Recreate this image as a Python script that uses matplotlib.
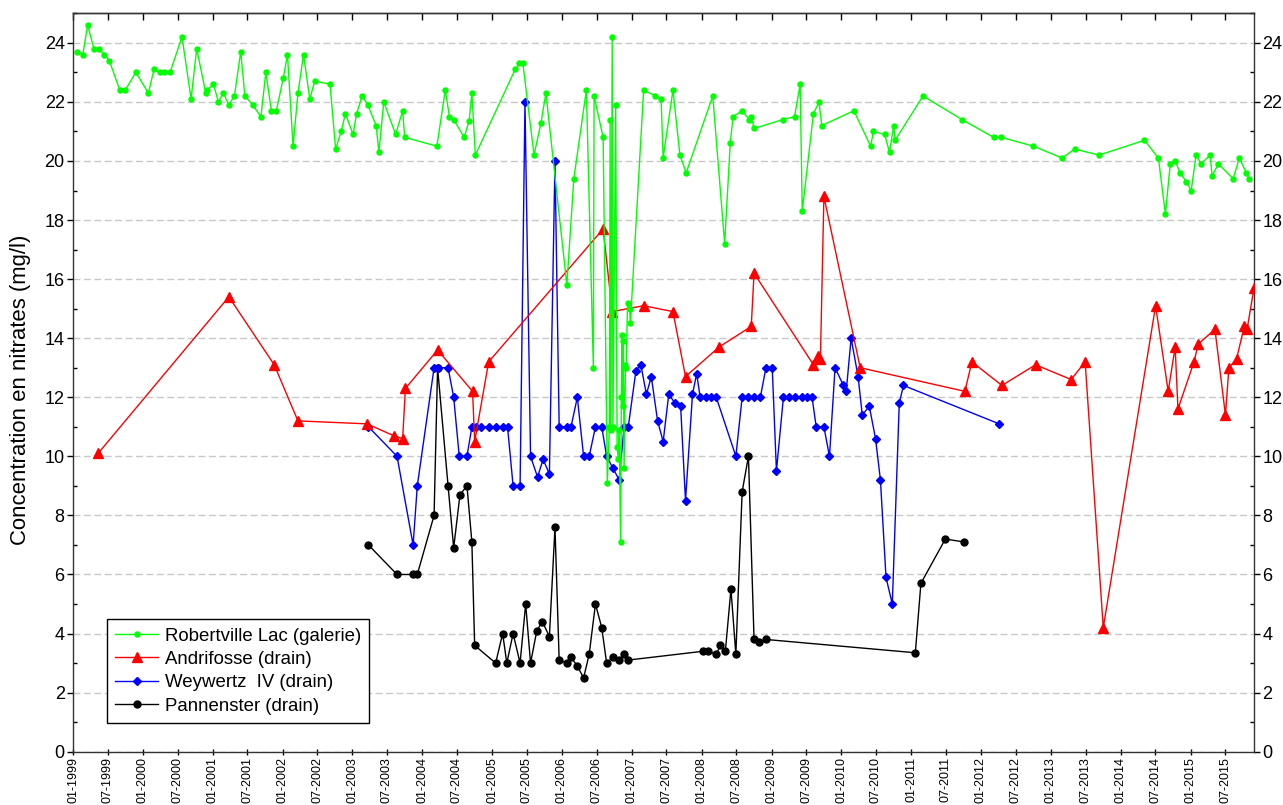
import numpy as np
import pandas as pd
import matplotlib
matplotlib.use('Agg')
import matplotlib.pyplot as plt
import matplotlib.dates as mdates
from matplotlib.ticker import MultipleLocator

plt.rcParams['font.family'] = ['Liberation Sans', 'DejaVu Sans']

# Sampling dates are kept as decimal years, concentrations in mg/l
robertville_years = [
    1999.06, 1999.14, 1999.21, 1999.30, 1999.37, 1999.45, 1999.52, 1999.67, 1999.75, 1999.90,
    2000.08, 2000.16, 2000.24, 2000.31, 2000.39, 2000.56, 2000.69, 2000.77, 2000.90, 2000.92,
    2001.01, 2001.08, 2001.15, 2001.23, 2001.31, 2001.40, 2001.46, 2001.57, 2001.69, 2001.76,
    2001.84, 2001.91, 2002.01, 2002.07, 2002.15, 2002.22, 2002.30, 2002.39, 2002.46, 2002.68,
    2002.76, 2002.84, 2002.90, 2003.01, 2003.06, 2003.14, 2003.22, 2003.34, 2003.38, 2003.45,
    2003.62, 2003.72, 2003.75, 2004.21, 2004.33, 2004.39, 2004.45, 2004.60, 2004.67, 2004.71,
    2004.76, 2005.33, 2005.39, 2005.44, 2005.60, 2005.70, 2005.77, 2006.07, 2006.17, 2006.35,
    2006.45, 2006.46, 2006.59, 2006.65, 2006.68, 2006.69, 2006.70, 2006.72, 2006.73, 2006.77,
    2006.79, 2006.81, 2006.82, 2006.84, 2006.85, 2006.86, 2006.87, 2006.88, 2006.89, 2006.91,
    2006.92, 2006.94, 2006.97, 2006.98, 2007.17, 2007.34, 2007.42, 2007.45, 2007.59, 2007.69,
    2007.78, 2008.16, 2008.33, 2008.41, 2008.45, 2008.58, 2008.68, 2008.71, 2008.75, 2009.16,
    2009.33, 2009.41, 2009.44, 2009.60, 2009.68, 2009.72, 2010.18, 2010.42, 2010.46, 2010.62,
    2010.69, 2010.75, 2010.77, 2011.17, 2011.73, 2012.18, 2012.29, 2012.75, 2013.16, 2013.34,
    2013.69, 2014.34, 2014.54, 2014.64, 2014.71, 2014.78, 2014.85, 2014.94, 2015.01, 2015.08,
    2015.15, 2015.28, 2015.31, 2015.40, 2015.61, 2015.70, 2015.80, 2015.84,
]
robertville_no3 = [
    23.7, 23.6, 24.6, 23.8, 23.8, 23.6, 23.4, 22.4, 22.4, 23.0,
    22.3, 23.1, 23.0, 23.0, 23.0, 24.2, 22.1, 23.8, 22.3, 22.4,
    22.6, 22.0, 22.3, 21.9, 22.2, 23.7, 22.2, 21.9, 21.5, 23.0,
    21.7, 21.7, 22.8, 23.6, 20.5, 22.3, 23.6, 22.1, 22.7, 22.6,
    20.4, 21.0, 21.6, 20.9, 21.6, 22.2, 21.9, 21.2, 20.3, 22.0,
    20.9, 21.7, 20.8, 20.5, 22.4, 21.5, 21.4, 20.8, 21.35, 22.3,
    20.2, 23.1, 23.3, 23.3, 20.2, 21.3, 22.3, 15.8, 19.4, 22.4,
    13.0, 22.2, 20.8, 9.1, 11.0, 21.4, 10.9, 24.2, 11.0, 21.9,
    10.3, 9.9, 10.9, 7.1, 12.0, 14.1, 11.7, 13.9, 9.6, 13.1,
    13.0, 15.2, 15.0, 14.5, 22.4, 22.2, 22.1, 20.1, 22.4, 20.2,
    19.6, 22.2, 17.2, 20.6, 21.5, 21.7, 21.4, 21.5, 21.1, 21.4,
    21.5, 22.6, 18.3, 21.6, 22.0, 21.2, 21.7, 20.5, 21.0, 20.9,
    20.3, 21.2, 20.7, 22.2, 21.4, 20.8, 20.8, 20.5, 20.1, 20.4,
    20.2, 20.7, 20.1, 18.2, 19.9, 20.0, 19.6, 19.3, 19.0, 20.2,
    19.9, 20.2, 19.5, 19.9, 19.4, 20.1, 19.6, 19.4,
]

andrifosse_years = [
    1999.36, 2001.23, 2001.88, 2002.22, 2003.21, 2003.59, 2003.72, 2003.76, 2004.22, 2004.72,
    2004.75, 2004.95, 2006.59, 2006.72, 2007.17, 2007.59, 2007.77, 2008.25, 2008.71, 2008.75,
    2009.60, 2009.67, 2009.70, 2009.75, 2010.27, 2011.77, 2011.87, 2012.30, 2012.78, 2013.29,
    2013.49, 2013.75, 2014.50, 2014.68, 2014.78, 2014.82, 2015.05, 2015.11, 2015.35, 2015.50,
    2015.55, 2015.66, 2015.77, 2015.81, 2015.91,
]
andrifosse_no3 = [
    10.1, 15.4, 13.1, 11.2, 11.1, 10.7, 10.6, 12.3, 13.6, 12.2,
    10.5, 13.2, 17.7, 14.9, 15.1, 14.9, 12.7, 13.7, 14.4, 16.2,
    13.1, 13.4, 13.3, 18.8, 13.0, 12.2, 13.2, 12.4, 13.1, 12.6,
    13.2, 4.2, 15.1, 12.2, 13.7, 11.6, 13.2, 13.8, 14.3, 11.4,
    13.0, 13.3, 14.4, 14.3, 15.7,
]

weywertz_years = [
    2003.23, 2003.64, 2003.87, 2003.93, 2004.17, 2004.22, 2004.37, 2004.45, 2004.53, 2004.64,
    2004.71, 2004.77, 2004.84, 2004.95, 2005.05, 2005.15, 2005.22, 2005.30, 2005.40, 2005.47,
    2005.55, 2005.65, 2005.73, 2005.82, 2005.90, 2005.96, 2006.07, 2006.13, 2006.22, 2006.31,
    2006.39, 2006.48, 2006.57, 2006.64, 2006.73, 2006.82, 2006.89, 2006.95, 2007.06, 2007.13,
    2007.21, 2007.28, 2007.37, 2007.45, 2007.53, 2007.62, 2007.70, 2007.77, 2007.87, 2007.93,
    2007.98, 2008.07, 2008.14, 2008.21, 2008.49, 2008.58, 2008.67, 2008.75, 2008.84, 2008.92,
    2009.01, 2009.07, 2009.17, 2009.25, 2009.34, 2009.43, 2009.51, 2009.58, 2009.64, 2009.75,
    2009.83, 2009.91, 2010.03, 2010.07, 2010.14, 2010.24, 2010.30, 2010.40, 2010.49, 2010.56,
    2010.64, 2010.73, 2010.83, 2010.89, 2012.26,
]
weywertz_no3 = [
    11.0, 10.0, 7.0, 9.0, 13.0, 13.0, 13.0, 12.0, 10.0, 10.0,
    11.0, 11.0, 11.0, 11.0, 11.0, 11.0, 11.0, 9.0, 9.0, 22.0,
    10.0, 9.3, 9.9, 9.4, 20.0, 11.0, 11.0, 11.0, 12.0, 10.0,
    10.0, 11.0, 11.0, 10.0, 9.6, 9.2, 11.0, 11.0, 12.9, 13.1,
    12.1, 12.7, 11.2, 10.5, 12.1, 11.8, 11.7, 8.5, 12.1, 12.8,
    12.0, 12.0, 12.0, 12.0, 10.0, 12.0, 12.0, 12.0, 12.0, 13.0,
    13.0, 9.5, 12.0, 12.0, 12.0, 12.0, 12.0, 12.0, 11.0, 11.0,
    10.0, 13.0, 12.4, 12.2, 14.0, 12.7, 11.4, 11.7, 10.6, 9.2,
    5.9, 5.0, 11.8, 12.4, 11.1,
]

pannenster_years = [
    2003.23, 2003.64, 2003.87, 2003.93, 2004.17, 2004.22, 2004.37, 2004.45, 2004.54, 2004.64,
    2004.71, 2004.75, 2005.05, 2005.15, 2005.21, 2005.30, 2005.40, 2005.48, 2005.55, 2005.64,
    2005.72, 2005.82, 2005.90, 2005.96, 2006.07, 2006.13, 2006.22, 2006.31, 2006.39, 2006.48,
    2006.57, 2006.64, 2006.73, 2006.82, 2006.89, 2006.94, 2008.02, 2008.09, 2008.21, 2008.27,
    2008.34, 2008.42, 2008.49, 2008.58, 2008.67, 2008.75, 2008.82, 2008.92, 2011.06, 2011.14,
    2011.49, 2011.76,
]
pannenster_no3 = [
    7.0, 6.0, 6.0, 6.0, 8.0, 13.0, 9.0, 6.9, 8.7, 9.0,
    7.1, 3.6, 3.0, 4.0, 3.0, 4.0, 3.0, 5.0, 3.0, 4.1,
    4.4, 3.9, 7.6, 3.1, 3.0, 3.2, 2.9, 2.5, 3.3, 5.0,
    4.2, 3.0, 3.2, 3.1, 3.3, 3.1, 3.4, 3.4, 3.3, 3.6,
    3.4, 5.5, 3.3, 8.8, 10.0, 3.8, 3.7, 3.8, 3.35, 5.7,
    7.2, 7.1,
]


def to_dates(years):
    out = []
    for y in years:
        y0 = int(y)
        start = pd.Timestamp(y0, 1, 1)
        end = pd.Timestamp(y0 + 1, 1, 1)
        out.append(start + (y - y0) * (end - start))
    return out


fig = plt.figure(figsize=(12.83, 8.05), dpi=100)
ax = fig.add_axes([0.0569, 0.0662, 0.9205, 0.9173])

ax.plot(to_dates(robertville_years), robertville_no3, color='#00ff00', lw=1.0,
        marker='o', ms=3.6, label='Robertville Lac (galerie)', zorder=6)
ax.plot(to_dates(andrifosse_years), andrifosse_no3, color='#ff0000', lw=1.0,
        marker='^', ms=7, label='Andrifosse (drain)', zorder=5)
ax.plot(to_dates(weywertz_years), weywertz_no3, color='#0000ff', lw=1.0,
        marker='D', ms=3.6, label='Weywertz  IV (drain)', zorder=4)
ax.plot(to_dates(pannenster_years), pannenster_no3, color='black', lw=1.0,
        marker='o', ms=5, label='Pannenster (drain)', zorder=3)

# axes limits and grid
ax.set_xlim(pd.Timestamp('1999-01-01'), pd.Timestamp('2015-11-29'))
ax.set_ylim(0, 25)
ax.yaxis.set_major_locator(MultipleLocator(2))
ax.yaxis.set_minor_locator(MultipleLocator(1))
ax.grid(axis='y', which='major', color='#c8c8c8', lw=1.0, ls=(0, (5, 2.5)), zorder=0)

ax.xaxis.set_major_locator(mdates.MonthLocator(bymonth=[1, 7]))
ax.xaxis.set_major_formatter(mdates.DateFormatter('%m-%Y'))
ax.tick_params(axis='x', which='major', direction='inout', length=5, width=1,
               labelsize=9.0, labelrotation=90, pad=1.5)

ax.tick_params(axis='y', which='major', direction='out', length=4, width=1,
               left=True, right=True, labelleft=True, labelright=True, labelsize=13, pad=2)
ax.tick_params(axis='y', which='minor', direction='in', length=3, width=1,
               left=True, right=True)

# top axis carries inward ticks only
top = ax.secondary_xaxis('top')
top.xaxis.set_major_locator(mdates.MonthLocator(bymonth=[1, 7]))
top.tick_params(axis='x', direction='in', length=5, width=1, labeltop=False)

for sp in ax.spines.values():
    sp.set_linewidth(1.0)
    sp.set_color('#333333')
top.spines['top'].set_linewidth(1.0)
top.spines['top'].set_color('#333333')

ax.set_ylabel('Concentration en nitrates (mg/l)', fontsize=15.9)
ax.yaxis.set_label_coords(-0.0356, 0.49)

leg = ax.legend(loc='lower left', bbox_to_anchor=(0.0288, 0.0389), borderaxespad=0,
                fontsize=13.4, numpoints=1, handlelength=2.3, handletextpad=0.35,
                labelspacing=0.34, borderpad=0.45, fancybox=False, framealpha=1)
leg.get_frame().set_edgecolor('black')
leg.get_frame().set_linewidth(1.0)

fig.savefig('out.png', dpi=100)
